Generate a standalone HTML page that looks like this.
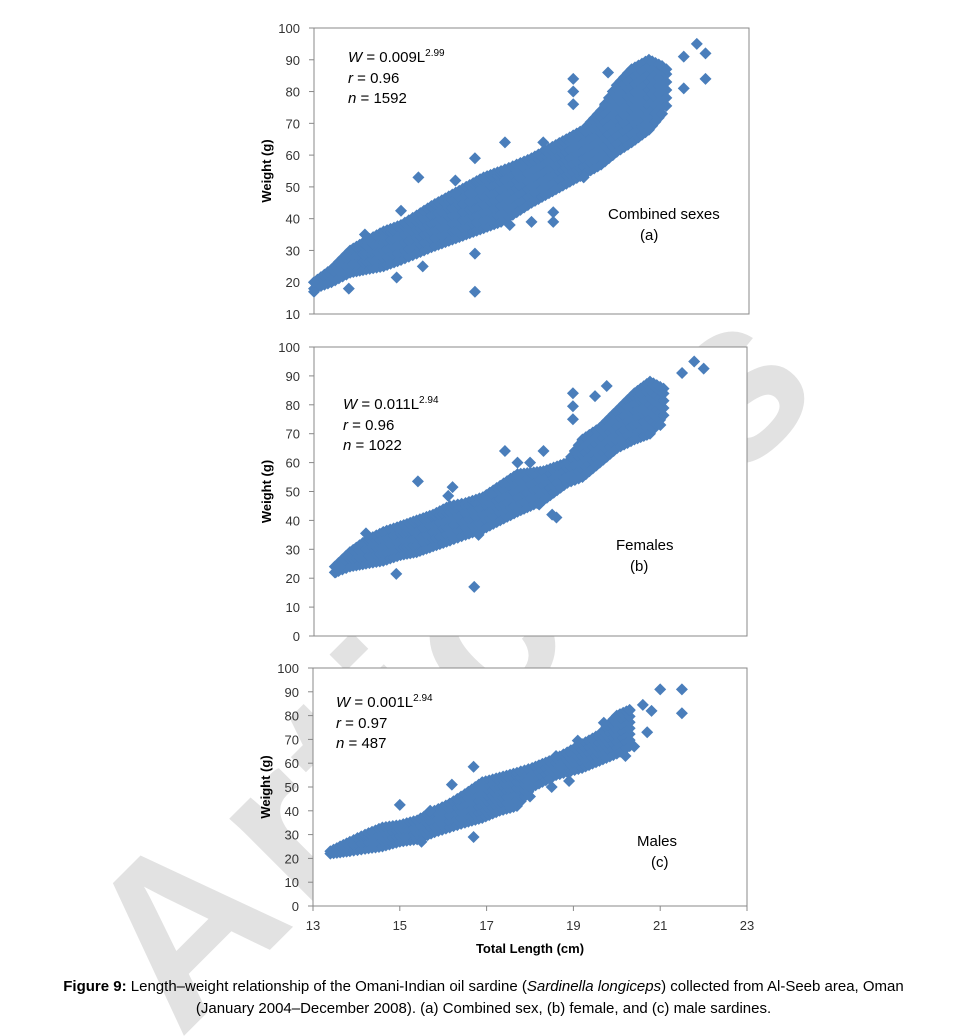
<!DOCTYPE html>
<html><head><meta charset="utf-8">
<style>
html,body{margin:0;padding:0;background:#fff;width:967px;height:1036px;overflow:hidden;}
body{position:relative;font-family:"Liberation Sans",sans-serif;}
#wm{position:absolute;left:30px;top:890px;font:bold 230px "Liberation Sans",sans-serif;color:#e2e2e2;transform:rotate(-45deg);transform-origin:0 0;white-space:nowrap;letter-spacing:10px;}
svg{position:absolute;left:0;top:0;}
#cap{position:absolute;left:0;top:976px;width:967px;text-align:center;font-size:15px;line-height:22px;color:#000;}
</style></head><body>
<div id="clip" style="position:absolute;left:0;top:0;width:967px;height:1036px;overflow:hidden;">
<div id="wm">Articles</div>
</div>
<svg id="chart" width="967" height="1036"></svg>
<div id="cap"><b>Figure 9:</b> Length–weight relationship of the Omani-Indian oil sardine (<i>Sardinella longiceps</i>) collected from Al-Seeb area, Oman<br>(January 2004–December 2008). (a) Combined sex, (b) female, and (c) male sardines.</div>
<script>
// Panel (a) combined
const aBandL=[13.0,13.4,13.83,14.2,14.6,15.0,15.36,15.7,16.1,16.5,16.9,17.3,17.66,18.0,18.4,18.8,19.2,19.6,19.96,20.3,20.7,21.0,21.2];
const aBandLo=[18,20,23,24,25,27,29,31,33,35,37,39,42,45,48,51,54,57,61,64,68,73,78];
const aBandHi=[20,24,30,33,36,38,41,44,47,50,53,55,57,59,62,65,68,74,82,87,90,88,86];
const aOutX=[13.0,13.0,13.8,14.17,14.9,15.0,15.4,15.5,16.25,16.25,16.7,16.7,16.7,17.39,18.0,18.27,18.5,18.5,18.96,18.96,18.96,19.2,19.76,21.0,21.5,21.5,21.8,22.0,22.0,17.5];
const aOutY=[17,20,18,35,21.5,42.5,53,25,52,48,59,29,17,64,39,64,42,39,84,80,76,53,86,73,91,81,95,92,84,38];
// Panel (b) females
const bBandL=[13.48,13.83,14.2,14.6,15.0,15.37,15.75,16.14,16.5,16.9,17.3,17.7,18.3,18.85,19.2,19.6,20.0,20.4,20.76,21.15];
const bBandLo=[22,24,25,26,28,29,31,33,35,37,40,43,47,53,55,60,65,68,70,78];
const bBandHi=[24,29,33,36,38,40,42,45,46,48,52,56,57,60,68,72,78,84,88,85];
const bOutX=[13.5,13.6,14.2,14.9,15.4,16.2,16.1,16.7,16.8,17.41,18.3,18.5,18.6,18.98,18.98,18.98,19.49,19.76,21.0,21.5,21.78,22.0,17.99,17.7,18.2];
const bOutY=[22,24,35.5,21.5,53.5,51.5,48.5,17,35,64,64,42,41,84,79.5,75,83,86.5,73,91,95,92.5,60,60,45.5];
// Panel (c) males
const cBandL=[13.4,13.85,14.2,14.6,15.0,15.4,15.8,16.15,16.5,16.9,17.3,17.7,18.05,18.6,19.2,19.6,20.0,20.37];
const cBandLo=[22,23,24,25,27,28,31,33,35,37,40,42,50,55,58,61,64,68];
const cBandHi=[23,27,30,33,34,36,40,43,47,52,54,56,58,62,68,72,80,83];
const cOutX=[15.0,16.2,16.7,16.7,15.7,15.5,18.0,18.5,18.9,18.7,18.6,19.7,20.6,20.8,20.7,20.4,21.0,21.5,21.5,19.1,20.2];
const cOutY=[42.5,51,58.5,29,40,27,46,50,52.5,58.5,63,77,84.5,82,73,67,91,91,81,69.5,63];
const yTicksA=[10,20,30,40,50,60,70,80,90,100];
const yTicksBC=[0,10,20,30,40,50,60,70,80,90,100];
const xTicks=[13,15,17,19,21,23];

const NS="http://www.w3.org/2000/svg";
const svg=document.getElementById('chart');
function mk(tag,attrs,parent){const e=document.createElementNS(NS,tag);for(const k in attrs)e.setAttribute(k,attrs[k]);(parent||svg).appendChild(e);return e;}
const panels=[
 {id:'a',x0:314,x1:749,y0:314,y1:28,ymin:10,ymax:100,yt:yTicksA,bL:aBandL,bLo:aBandLo,bHi:aBandHi,oX:aOutX,oY:aOutY,
  eq:['0.009','2.99','0.96','1592'],eqx:348,eqy:62,lab:['Combined sexes','(a)'],lx:608,ly:219,lx2:640},
 {id:'b',x0:314,x1:747,y0:636,y1:347,ymin:0,ymax:100,yt:yTicksBC,bL:bBandL,bLo:bBandLo,bHi:bBandHi,oX:bOutX,oY:bOutY,
  eq:['0.011','2.94','0.96','1022'],eqx:343,eqy:409,lab:['Females','(b)'],lx:616,ly:550,lx2:630},
 {id:'c',x0:313,x1:747,y0:906,y1:668,ymin:0,ymax:100,yt:yTicksBC,bL:cBandL,bLo:cBandLo,bHi:cBandHi,oX:cOutX,oY:cOutY,
  eq:['0.001','2.94','0.97','487'],eqx:336,eqy:707,lab:['Males','(c)'],lx:637,ly:846,lx2:651,xaxis:true}
];
const COL='#4a7ebb';
panels.forEach(p=>{
  const g=mk('g',{});
  
  
  const sx=v=>p.x0+(v-13)/10*(p.x1-p.x0);
  const sy=v=>p.y0-(v-p.ymin)/(p.ymax-p.ymin)*(p.y0-p.y1);
  const r=mk('rect',{x:p.x0,y:p.y1,width:p.x1-p.x0,height:p.y0-p.y1,fill:'#fff',stroke:'#888','stroke-width':1},g);
  
  
  p.yt.forEach(t=>{
    mk('line',{x1:p.x0-5,x2:p.x0,y1:sy(t),y2:sy(t),stroke:'#888'},g);
    const tx=mk('text',{x:p.x0-14,y:sy(t)+5,'text-anchor':'end','font-size':13,fill:'#333','font-family':'Liberation Sans, sans-serif'},g);
    tx.textContent=t;
    
    
  });
  const yl=mk('text',{x:0,y:0,transform:`translate(${p.x0-43},${(p.y0+p.y1)/2}) rotate(-90)`,'text-anchor':'middle','font-size':13,'font-weight':'bold','font-family':'Liberation Sans, sans-serif'},g);
  yl.textContent='Weight (g)';
  
  
  if(p.xaxis){
    xTicks.forEach(t=>{
      mk('line',{x1:sx(t),x2:sx(t),y1:p.y0,y2:p.y0+5,stroke:'#888'},g);
      const tx=mk('text',{x:sx(t),y:p.y0+24,'text-anchor':'middle','font-size':13,fill:'#333','font-family':'Liberation Sans, sans-serif'},g);
      tx.textContent=t;
      
      
    });
    const xl=mk('text',{x:(p.x0+p.x1)/2,y:p.y0+47,'text-anchor':'middle','font-size':13,'font-weight':'bold','font-family':'Liberation Sans, sans-serif'},g);
    xl.textContent='Total Length (cm)';
    
    
  }
  const pts=mk('g',{fill:COL},g);
  
  
  const dia=(L,W)=>{const x=sx(L),y=sy(W);const d=mk('path',{d:`M${x} ${y-6}L${x+6} ${y}L${x} ${y+6}L${x-6} ${y}Z`},pts);
    
    };
  for(let i=0;i<p.bL.length-1;i++){
    const L0=p.bL[i],L1=p.bL[i+1];
    const steps=Math.max(1,Math.round((L1-L0)/0.08));
    for(let s=0;s<steps;s++){
      const f=s/steps,L=L0+(L1-L0)*f;
      const lo=p.bLo[i]+(p.bLo[i+1]-p.bLo[i])*f, hi=p.bHi[i]+(p.bHi[i+1]-p.bHi[i])*f;
      for(let w=lo;w<=hi+0.01;w+=2.5)dia(L,w);
      dia(L,hi);
    }
  }
  p.oX.forEach((L,i)=>dia(L,p.oY[i]));
  const ef='font-family="Liberation Sans, sans-serif" font-size="15"';
  const eqg=mk('g',{},g);
  
  
  eqg.innerHTML=`<text x="${p.eqx}" y="${p.eqy}" ${ef}><tspan font-style="italic">W</tspan> = ${p.eq[0]}L<tspan font-size="10" dy="-6">${p.eq[1]}</tspan></text>
  <text x="${p.eqx}" y="${p.eqy+21}" ${ef}><tspan font-style="italic">r</tspan> = ${p.eq[2]}</text>
  <text x="${p.eqx}" y="${p.eqy+41}" ${ef}><tspan font-style="italic">n</tspan> = ${p.eq[3]}</text>`;
  const lg=mk('g',{},g);
  
  
  lg.innerHTML=`<text x="${p.lx}" y="${p.ly}" ${ef}>${p.lab[0]}</text><text x="${p.lx2}" y="${p.ly+21}" ${ef}>${p.lab[1]}</text>`;
});
</script>
</body></html>
